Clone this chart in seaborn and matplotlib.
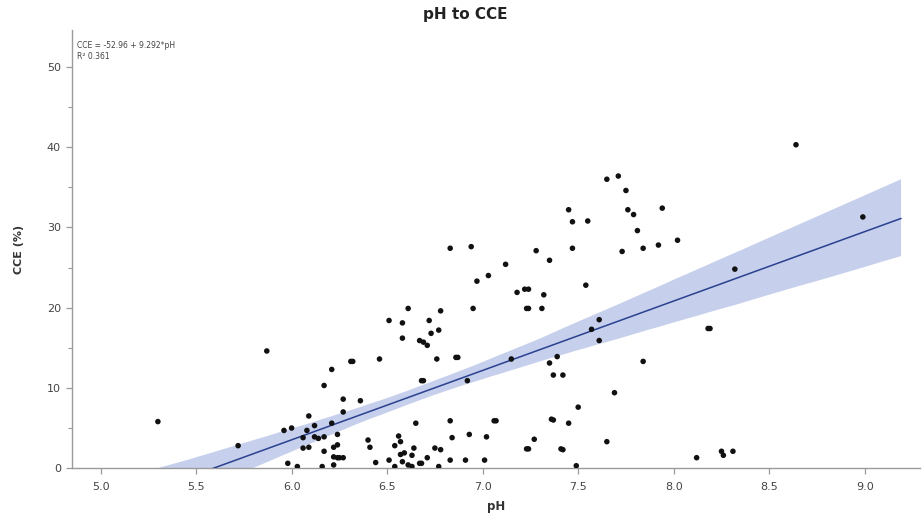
import numpy as np
import pandas as pd
import matplotlib
matplotlib.use("Agg")
import matplotlib.pyplot as plt
import seaborn as sns
from matplotlib.ticker import MultipleLocator

# ---- data ----
ph = [
    5.30, 5.72, 5.87, 6.21, 6.31, 6.32, 6.46, 6.17, 6.27, 6.36,
    6.27, 6.09, 5.96, 6.00, 6.08, 6.12, 6.21, 6.06, 6.12, 6.14,
    6.17, 6.24, 6.06, 6.09, 6.17, 6.22, 6.24, 6.22, 6.24, 6.25,
    6.27, 5.98, 6.03, 6.16, 6.22, 6.40, 6.41, 6.44,
    6.58, 6.73, 6.77, 6.67, 6.69, 6.71, 6.76, 6.86, 6.87, 6.68,
    6.69, 6.92, 6.65, 6.83, 7.06, 7.07, 6.56, 6.57, 6.54, 6.64,
    6.84, 6.93, 7.02, 6.75, 6.78, 6.51, 6.57, 6.59, 6.63, 6.71,
    6.83, 6.91, 7.01, 6.58, 6.61, 6.63, 6.67, 6.68, 6.54, 6.77,
    6.61, 6.78, 6.95, 6.51, 6.58, 6.72, 6.83, 6.94, 6.97, 7.03,
    7.12, 7.18, 7.22, 7.24, 7.32, 7.35, 7.28, 7.47, 7.54, 7.23,
    7.24, 7.31, 7.65, 7.71, 7.75, 7.45, 7.47, 7.55, 7.76, 7.79,
    7.94, 7.81, 7.73, 7.84, 7.92, 8.02, 7.15, 7.35, 7.39, 7.37,
    7.42, 7.57, 7.61, 7.61, 7.84, 7.69, 7.50, 7.36, 7.37, 7.45,
    7.27, 7.23, 7.24, 7.41, 7.42, 7.49, 7.65, 8.12, 8.25, 8.26,
    8.31, 8.18, 8.19, 8.32, 8.64, 8.99,
]
cce = [
    5.8, 2.8, 14.6, 12.3, 13.3, 13.3, 13.6, 10.3, 8.6, 8.4,
    7.0, 6.5, 4.7, 5.0, 4.7, 5.3, 5.6, 3.8, 3.9, 3.7,
    3.9, 4.2, 2.5, 2.6, 2.1, 2.6, 2.9, 1.4, 1.3, 1.3,
    1.3, 0.6, 0.2, 0.2, 0.4, 3.5, 2.6, 0.7,
    16.2, 16.8, 17.2, 15.9, 15.7, 15.3, 13.6, 13.8, 13.8, 10.9,
    10.9, 10.9, 5.6, 5.9, 5.9, 5.9, 4.0, 3.3, 2.8, 2.5,
    3.8, 4.2, 3.9, 2.5, 2.3, 1.0, 1.7, 1.9, 1.6, 1.3,
    1.0, 1.0, 1.0, 0.8, 0.4, 0.2, 0.6, 0.6, 0.2, 0.2,
    19.9, 19.6, 19.9, 18.4, 18.1, 18.4, 27.4, 27.6, 23.3, 24.0,
    25.4, 21.9, 22.3, 22.3, 21.6, 25.9, 27.1, 27.4, 22.8, 19.9,
    19.9, 19.9, 36.0, 36.4, 34.6, 32.2, 30.7, 30.8, 32.2, 31.6,
    32.4, 29.6, 27.0, 27.4, 27.8, 28.4, 13.6, 13.1, 13.9, 11.6,
    11.6, 17.3, 18.5, 15.9, 13.3, 9.4, 7.6, 6.1, 6.0, 5.6,
    3.6, 2.4, 2.4, 2.4, 2.3, 0.3, 3.3, 1.3, 2.1, 1.6,
    2.1, 17.4, 17.4, 24.8, 40.3, 31.3,
]
x_ticks = [5.0, 5.5, 6.0, 6.5, 7.0, 7.5, 8.0, 8.5, 9.0]
y_ticks = [0, 10, 20, 30, 40, 50]
title = "pH to CCE"
eq_text = "CCE = -52.96 + 9.292*pH\nR\u00b2 0.361"

df = pd.DataFrame({"pH": ph, "CCE (%)": cce})

sns.set_style("white")
plt.rcParams["font.family"] = ["DejaVu Sans"]

fig = plt.figure(figsize=(9.22, 5.26), dpi=100)
ax = fig.add_axes([0.078, 0.110, 0.920, 0.833])

# regression line spans to x = 9.19 like the reference
ax.set_xlim(4.85, 9.19)
ax.set_ylim(0, 54.6)
sns.regplot(data=df, x="pH", y="CCE (%)", ax=ax, scatter=False, truncate=False,
            ci=85, color="#2a4190", line_kws={"linewidth": 1.1, "zorder": 3}, seed=1)
for coll in ax.collections:
    coll.set_facecolor("#c6cfeb")
    coll.set_alpha(1.0)
    coll.set_edgecolor("none")
    coll.set_zorder(2)

sns.scatterplot(data=df, x="pH", y="CCE (%)", ax=ax, color="#111111", s=16,
                edgecolor="none", zorder=4)

ax.set_xlim(4.85, 9.29)
ax.set_ylim(0, 54.6)
ax.set_xticks(x_ticks)
ax.set_xticklabels([f"{v:.1f}" for v in x_ticks])
ax.set_yticks(y_ticks)
ax.yaxis.set_minor_locator(MultipleLocator(5))

for s in ["top", "right"]:
    ax.spines[s].set_visible(False)
for s in ["left", "bottom"]:
    ax.spines[s].set_color("#9a9a9a")
    ax.spines[s].set_linewidth(1.0)

ax.tick_params(axis="both", which="major", direction="out", length=4, width=0.9,
               color="#9a9a9a", labelsize=8, labelcolor="#444444")
ax.tick_params(axis="y", which="minor", direction="out", length=3, width=0.8,
               color="#9a9a9a", left=True)
ax.tick_params(axis="x", which="major", bottom=True, pad=6)
ax.tick_params(axis="y", which="major", left=True, pad=4)

ax.set_xlabel("pH", fontsize=8.5, fontweight="bold", color="#333333", labelpad=6)
ax.set_ylabel("CCE (%)", fontsize=8, fontweight="bold", color="#333333", labelpad=16)

fig.text(0.505, 0.973, title, ha="center", va="center", fontsize=11,
         fontweight="bold", color="#222222")
ax.text(0.006, 0.975, eq_text, transform=ax.transAxes, ha="left", va="top",
        fontsize=5.5, color="#444444", linespacing=1.3)

fig.savefig("out.png", dpi=100)
